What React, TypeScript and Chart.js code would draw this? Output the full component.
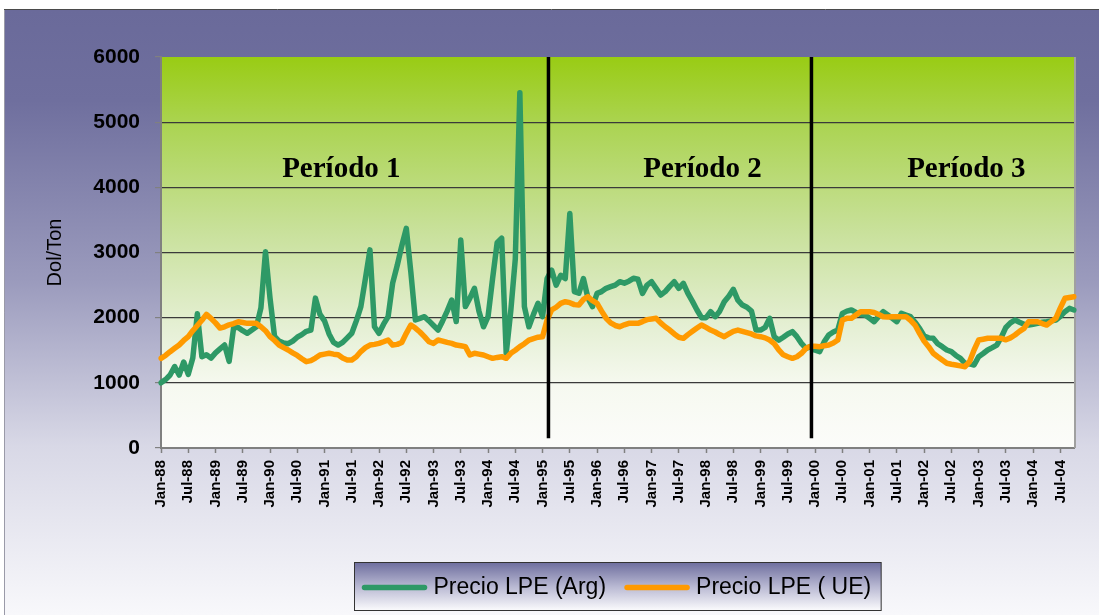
import React, { useEffect, useRef } from 'react';
import { Chart, registerables } from 'chart.js';

Chart.register(...registerables);

// ---------- data ----------
const MONTH_NAMES = ['Jan', 'Feb', 'Mar', 'Apr', 'May', 'Jun', 'Jul', 'Aug', 'Sep', 'Oct', 'Nov', 'Dec'];
const FIRST_YEAR = 1988;
const MONTH_COUNT = 202; // Jan-88 .. Oct-04
const categories: string[] = Array.from({ length: MONTH_COUNT }, (_, i) => {
  const yy = (FIRST_YEAR + Math.floor(i / 12)) % 100;
  return `${MONTH_NAMES[i % 12]}-${String(yy).padStart(2, '0')}`;
});

// Precio LPE (Arg), Dol/Ton, monthly
const argPrices = [
  1000, 1050, 1120, 1250, 1120, 1320, 1130, 1380, 2060, 1400, 1430, 1380, // 1988
  1460, 1520, 1580, 1330, 1850, 1850, 1800, 1760, 1810, 1860, 2150, 3010, // 1989
  2300, 1710, 1640, 1610, 1600, 1640, 1700, 1740, 1790, 1810, 2300, 2050, // 1990
  1950, 1750, 1620, 1580, 1620, 1690, 1760, 1950, 2170, 2600, 3040, 1860, // 1991
  1760, 1900, 2015, 2530, 2800, 3100, 3370, 2700, 1965, 1990, 2015, 1950, // 1992
  1880, 1810, 1950, 2100, 2270, 1940, 3190, 2170, 2300, 2450, 2100, 1860, // 1993
  2015, 2600, 3150, 3220, 1450, 2100, 2900, 5450, 2170, 1860, 2050, 2220, // 1994
  2015, 2600, 2730, 2500, 2650, 2600, 3600, 2400, 2375, 2600, 2300, 2170, // 1995
  2373, 2400, 2450, 2475, 2500, 2552, 2530, 2560, 2604, 2590, 2373, 2500, // 1996
  2552, 2450, 2348, 2400, 2480, 2552, 2450, 2527, 2373, 2250, 2118, 2000, // 1997
  2000, 2092, 2015, 2100, 2245, 2330, 2435, 2270, 2194, 2160, 2100, 1810, // 1998
  1810, 1850, 1990, 1708, 1655, 1700, 1750, 1785, 1708, 1606, 1530, 1555, // 1999
  1500, 1478, 1630, 1734, 1780, 1810, 2066, 2100, 2118, 2080, 2050, 2040, // 2000
  1990, 1938, 2020, 2092, 2040, 1990, 1938, 2066, 2040, 2015, 1930, 1836, // 2001
  1720, 1690, 1683, 1600, 1555, 1504, 1478, 1420, 1376, 1300, 1290, 1274, // 2002
  1401, 1450, 1504, 1540, 1580, 1700, 1850, 1920, 1964, 1930, 1900, 1887, // 2003
  1900, 1913, 1930, 1938, 1950, 1964, 2020, 2092, 2143, 2118,             // 2004
];

// Precio LPE (UE), Dol/Ton, monthly
const uePrices = [
  1376, 1420, 1478, 1530, 1580, 1650, 1708, 1800, 1880, 1960, 2050, 1990, // 1988
  1920, 1840, 1860, 1890, 1910, 1938, 1925, 1913, 1913, 1913, 1861, 1800, // 1989
  1708, 1650, 1580, 1540, 1504, 1460, 1420, 1370, 1325, 1340, 1380, 1427, // 1990
  1440, 1453, 1440, 1430, 1380, 1350, 1350, 1400, 1480, 1540, 1580, 1590, // 1991
  1605, 1630, 1657, 1580, 1590, 1620, 1760, 1887, 1840, 1780, 1708, 1630, // 1992
  1605, 1657, 1640, 1620, 1605, 1580, 1570, 1555, 1427, 1453, 1440, 1427, // 1993
  1400, 1376, 1390, 1401, 1376, 1453, 1500, 1555, 1600, 1657, 1680, 1700, // 1994
  1708, 1964, 2118, 2160, 2220, 2245, 2230, 2200, 2194, 2280, 2322, 2260, // 1995
  2220, 2100, 1990, 1920, 1880, 1861, 1890, 1913, 1913, 1913, 1940, 1970, // 1996
  1980, 1990, 1920, 1860, 1810, 1750, 1700, 1683, 1740, 1790, 1840, 1887, // 1997
  1850, 1810, 1780, 1740, 1708, 1750, 1790, 1810, 1790, 1770, 1750, 1720, // 1998
  1708, 1690, 1657, 1600, 1504, 1430, 1400, 1376, 1400, 1453, 1530, 1560, // 1999
  1560, 1555, 1570, 1580, 1610, 1657, 1964, 1990, 1990, 2040, 2092, 2092, // 2000
  2092, 2080, 2050, 2015, 2010, 2015, 2015, 2015, 2015, 1960, 1887, 1760, // 2001
  1640, 1555, 1453, 1400, 1350, 1300, 1285, 1274, 1260, 1248, 1325, 1504, // 2002
  1657, 1670, 1683, 1683, 1683, 1683, 1660, 1690, 1734, 1790, 1836, 1938, // 2003
  1938, 1938, 1910, 1887, 1940, 1990, 2150, 2297, 2310, 2322,             // 2004
];

const seriesNames = ['Precio LPE (Arg)', 'Precio LPE ( UE)'];
const Y_MIN = 0;
const Y_MAX = 6000;
const Y_STEP = 1000;
const yTitle = 'Dol/Ton';

// period separators (category index, fractional) and labels
const periodBreaks = [85.3, 143.2];
const periodBreakBottom = 150; // value where the separator lines stop
const periodLabels = ['Período 1', 'Período 2', 'Período 3'];
const periodLabelAt = [39.7, 119.2, 177.3];
const periodLabelValue = 4160;

// ---------- styles ----------
const GREEN = '#2E9966';
const ORANGE = '#FF9A00';
const SANS = "'Liberation Sans', Arial, sans-serif";
const SERIF = "'Liberation Serif', 'Times New Roman', serif";

const backgroundPlugin = {
  id: 'backgroundPlugin',
  beforeDraw(chart: any) {
    const { ctx, width, height, chartArea } = chart;
    ctx.save();
    ctx.fillStyle = '#ffffff';
    ctx.fillRect(0, 0, width, height);
    // outer frame gradient
    const g = ctx.createLinearGradient(0, 10, 0, height);
    g.addColorStop(0, '#6a6a9a');
    g.addColorStop(0.15, '#6f6f9e');
    g.addColorStop(0.45, '#9b9bbd');
    g.addColorStop(0.72, '#d8d8e6');
    g.addColorStop(1, '#f8f8fb');
    ctx.fillStyle = g;
    ctx.fillRect(4, 10, width - 4, height - 10);
    ctx.strokeStyle = '#4a4a4a';
    ctx.lineWidth = 1;
    ctx.beginPath();
    ctx.moveTo(4, 9.5);
    ctx.lineTo(width, 9.5);
    ctx.stroke();
    ctx.strokeStyle = '#9a9aa8';
    ctx.beginPath();
    ctx.moveTo(4.5, 10);
    ctx.lineTo(4.5, height);
    ctx.stroke();
    // plot area gradient
    const { left, top, right, bottom } = chartArea;
    const pg = ctx.createLinearGradient(0, top, 0, bottom);
    pg.addColorStop(0, '#99cc14');
    pg.addColorStop(0.18, '#acd454');
    pg.addColorStop(0.45, '#c9e19c');
    pg.addColorStop(0.7, '#e6f0d6');
    pg.addColorStop(0.84, '#f6f9f0');
    pg.addColorStop(1, '#fcfcfa');
    ctx.fillStyle = pg;
    ctx.fillRect(left, top, right - left, bottom - top);
    ctx.restore();
  },
  beforeDatasetsDraw(chart: any) {
    const { ctx, chartArea } = chart;
    ctx.save();
    ctx.strokeStyle = '#a0a0a0';
    ctx.lineWidth = 2;
    ctx.beginPath();
    ctx.moveTo(chartArea.right + 1, chartArea.top);
    ctx.lineTo(chartArea.right + 1, chartArea.bottom);
    ctx.stroke();
    ctx.restore();
  },
};

const periodPlugin = {
  id: 'periodPlugin',
  afterDatasetsDraw(chart: any) {
    const { ctx, chartArea } = chart;
    const xs = chart.scales.x;
    const ys = chart.scales.y;
    ctx.save();
    ctx.strokeStyle = '#000000';
    ctx.lineWidth = 3.5;
    periodBreaks.forEach((b) => {
      const x = xs.getPixelForValue(b);
      ctx.beginPath();
      ctx.moveTo(x, chartArea.top);
      ctx.lineTo(x, ys.getPixelForValue(periodBreakBottom));
      ctx.stroke();
    });
    ctx.fillStyle = '#000000';
    ctx.font = `bold 29px ${SERIF}`;
    ctx.textAlign = 'center';
    ctx.textBaseline = 'alphabetic';
    periodLabels.forEach((t, i) => {
      ctx.fillText(t, xs.getPixelForValue(periodLabelAt[i]), ys.getPixelForValue(periodLabelValue));
    });
    ctx.restore();
  },
};

const legendBoxPlugin = {
  id: 'legendBoxPlugin',
  afterDraw(chart: any) {
    const { ctx, chartArea } = chart;
    const datasets = chart.data.datasets;
    ctx.save();
    ctx.font = `23px ${SANS}`;
    const lineLen = 66;
    const gapAfterLine = 6;
    const gapBetween = 18;
    const padL = 7;
    const padR = 10;
    const widths = datasets.map((d: any) => ctx.measureText(d.label).width);
    let total = padL + padR;
    widths.forEach((w: number, i: number) => {
      total += lineLen + gapAfterLine + w + (i < widths.length - 1 ? gapBetween : 0);
    });
    const cx = (chartArea.left + chartArea.right) / 2;
    const bx = Math.round(cx - total / 2) + 0.5;
    const by = 562.5;
    const bh = 48;
    const g = ctx.createLinearGradient(0, by, 0, by + bh);
    g.addColorStop(0, '#6e6e9e');
    g.addColorStop(0.5, '#b8b8d2');
    g.addColorStop(1, '#fbfbfd');
    ctx.fillStyle = g;
    ctx.fillRect(bx, by, total, bh);
    ctx.strokeStyle = '#333333';
    ctx.lineWidth = 1;
    ctx.strokeRect(bx, by, total, bh);
    const cy = by + bh / 2 + 1;
    let x = bx + padL;
    datasets.forEach((d: any, i: number) => {
      ctx.strokeStyle = d.borderColor;
      ctx.lineWidth = 5.5;
      ctx.lineCap = 'round';
      ctx.beginPath();
      ctx.moveTo(x + 3, cy);
      ctx.lineTo(x + lineLen - 3, cy);
      ctx.stroke();
      x += lineLen + gapAfterLine;
      ctx.fillStyle = '#000000';
      ctx.textAlign = 'left';
      ctx.textBaseline = 'middle';
      ctx.fillText(d.label, x, cy);
      x += widths[i] + gapBetween;
    });
    ctx.restore();
  },
};

export default function App() {
  const canvasRef = useRef<HTMLCanvasElement>(null);

  useEffect(() => {
    const canvas = canvasRef.current;
    if (!canvas) return;
    const chart = new Chart(canvas, {
      type: 'line',
      data: {
        labels: categories,
        datasets: [
          {
            label: seriesNames[0],
            data: argPrices,
            borderColor: GREEN,
            backgroundColor: GREEN,
            borderWidth: 5.5,
            pointRadius: 0,
            tension: 0,
            borderJoinStyle: 'round',
            borderCapStyle: 'round',
            order: 1,
          },
          {
            label: seriesNames[1],
            data: uePrices,
            borderColor: ORANGE,
            backgroundColor: ORANGE,
            borderWidth: 5.5,
            pointRadius: 0,
            tension: 0,
            borderJoinStyle: 'round',
            borderCapStyle: 'round',
            order: 0,
          },
        ],
      },
      options: {
        responsive: false,
        animation: false,
        devicePixelRatio: 1,
        layout: { padding: { left: 0, top: 57, right: 24, bottom: 92 } },
        plugins: {
          legend: { display: false },
          tooltip: { enabled: false },
          title: { display: false },
        },
        scales: {
          x: {
            type: 'category',
            offset: false,
            border: { display: true, color: '#808080', width: 2 },
            grid: {
              drawOnChartArea: false,
              drawTicks: true,
              tickLength: 5,
              tickWidth: 1.5,
              tickColor: (c: any) => (c.index % 6 === 0 ? '#808080' : 'rgba(0,0,0,0)'),
            },
            ticks: {
              autoSkip: false,
              minRotation: 90,
              maxRotation: 90,
              padding: 7,
              color: '#000000',
              font: { family: SANS, size: 15, weight: 'bold' },
              callback: (_v: any, i: number) => (i % 6 === 0 ? categories[i] : ''),
            },
            afterFit: (s: any) => {
              s.height = 75;
            },
          },
          y: {
            min: Y_MIN,
            max: Y_MAX,
            border: { display: true, color: '#808080', width: 2 },
            grid: {
              color: (c: any) =>
                c.tick && (c.tick.value === Y_MIN || c.tick.value === Y_MAX) ? 'rgba(0,0,0,0)' : '#3a3a3a',
              lineWidth: 1.2,
              drawTicks: true,
              tickLength: 6,
              tickColor: '#808080',
            },
            ticks: {
              stepSize: Y_STEP,
              padding: 15,
              color: '#000000',
              font: { family: SANS, size: 21, weight: 'bold' },
              callback: (v: any) => String(v),
            },
            title: {
              display: true,
              text: yTitle,
              color: '#000000',
              font: { family: SANS, size: 20, weight: 'normal' },
              padding: { top: 43, bottom: 0 },
            },
            afterFit: (s: any) => {
              s.width = 161;
            },
          },
        },
      },
      plugins: [backgroundPlugin, periodPlugin, legendBoxPlugin],
    } as any);
    return () => chart.destroy();
  }, []);

  return (
    <div style={{ position: 'absolute', left: 0, top: 0, width: 1099, height: 615 }}>
      <canvas ref={canvasRef} width={1099} height={615} style={{ display: 'block' }} />
    </div>
  );
}
